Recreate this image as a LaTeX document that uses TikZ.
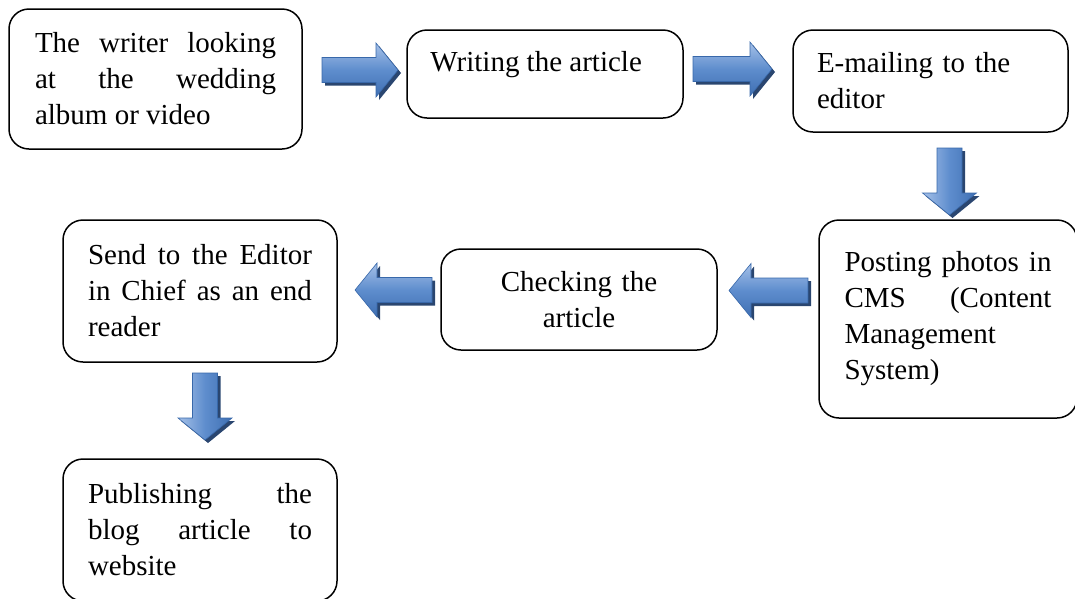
\documentclass[tikz,border=0pt]{standalone}
\usepackage{fontspec}
\setmainfont{Liberation Serif}
\usetikzlibrary{calc}
\hyphenpenalty=10000
\tolerance=10000
\hbadness=10000
\definecolor{arlight}{HTML}{A6C1E8}
\definecolor{armid}{HTML}{5E8DCD}
\definecolor{ardark}{HTML}{3F6FB2}
\definecolor{arline}{HTML}{3868AA}
\definecolor{arshadow}{HTML}{2A4670}
\tikzset{
  box/.style={draw, line width=1.5pt, rounded corners=20pt, inner sep=0pt,
    font=\fontsize{29pt}{36pt}\selectfont},
  hshade/.style={top color=arlight, bottom color=ardark, middle color=armid},
  vshade/.style={left color=arlight, right color=ardark, middle color=armid},
  arshadowstyle/.style={fill=arshadow, transform canvas={shift={(3pt,-3pt)}}},
  aroutline/.style={draw=arline, line width=0.6pt}
}
% #1 tail x, #2 tail y, #3 rotation, #4 length, #5 shading style
\newcommand\blockarrow[5]{%
  \begin{scope}[shift={(#1,#2)}, rotate=#3]
    \path[arshadowstyle] (0,-12.5) -- (#4-22,-12.5) -- (#4-22,-27) -- (#4,0)
      -- (#4-22,27) -- (#4-22,12.5) -- (0,12.5) -- cycle;
    \path[#5, aroutline] (0,-12.5) -- (#4-22,-12.5) -- (#4-22,-27) -- (#4,0)
      -- (#4-22,27) -- (#4-22,12.5) -- (0,12.5) -- cycle;
  \end{scope}}
\begin{document}
\begin{tikzpicture}[x=1pt, y=-1pt]
\useasboundingbox (0,0) rectangle (1075,598);
% boxes
\node[box, minimum width=293pt, minimum height=140pt, text width=241pt, align=justify] (b1) at (155.5,79)
  {The writer looking\linebreak at the wedding\linebreak album or video};
\node[box, minimum width=276pt, minimum height=88pt] (b2) at (545,74) {};
\node[anchor=base west, inner sep=0pt, font=\fontsize{29pt}{36pt}\selectfont] (t2) at ($(b2.north west)+(24,42)$) {Writing the article};
\node[box, minimum width=275pt, minimum height=102pt, text width=227pt, align=left] (b3) at (930.5,81)
  {E-mailing to the\\ editor};
\node[box, minimum width=258pt, minimum height=198pt, text width=207pt, align=justify] (b4) at (948,319)
  {Posting photos in\linebreak CMS (Content\linebreak Management\linebreak System)};
\node[box, minimum width=276pt, minimum height=101pt, text width=230pt, align=center] (b5) at (579,299.5)
  {Checking the\\ article};
\node[box, minimum width=274pt, minimum height=142pt, text width=224pt, align=justify] (b6) at (200,291)
  {Send to the Editor\linebreak in Chief as an end\linebreak reader};
\node[box, minimum width=274pt, minimum height=142pt, text width=224pt, align=justify] (b7) at (200,530)
  {Publishing the\linebreak blog article to\linebreak website};
% block arrows
\blockarrow{322}{70}{0}{76}{hshade}
\blockarrow{693}{69}{0}{79}{hshade}
\blockarrow{949.5}{148}{-90}{67}{vshade}
\blockarrow{808}{290.5}{180}{79}{hshade}
\blockarrow{432}{290}{180}{77}{hshade}
\blockarrow{205}{373}{-90}{67}{vshade}
\end{tikzpicture}
\end{document}
